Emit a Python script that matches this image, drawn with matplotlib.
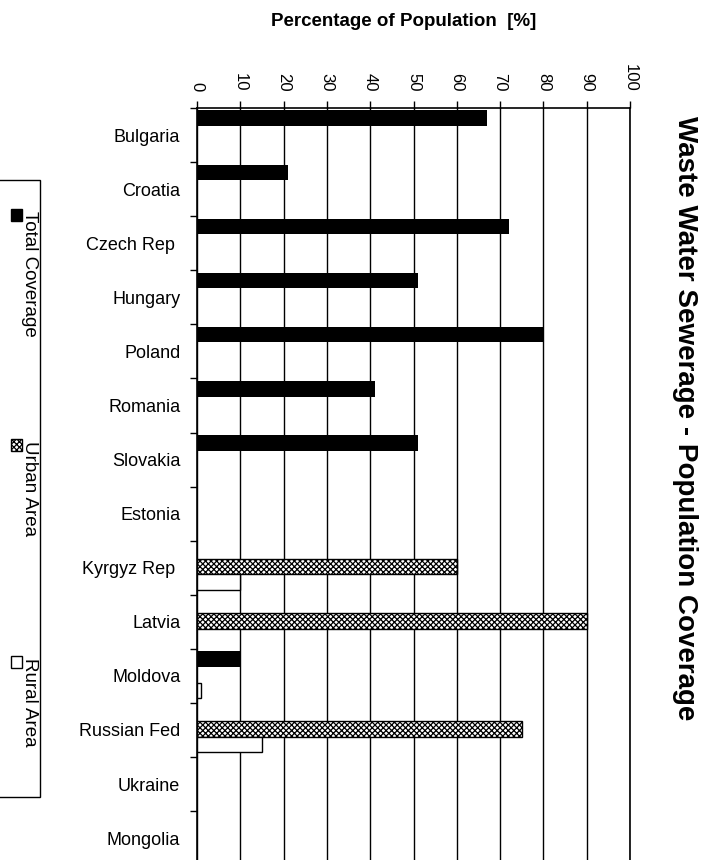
import matplotlib.pyplot as plt
import matplotlib.patches as mpatches
import numpy as np

plt.rcParams['font.family'] = ['Liberation Sans', 'DejaVu Sans']
plt.rcParams['hatch.linewidth'] = 0.9

# data
countries = ["Bulgaria", "Croatia", "Czech Rep ", "Hungary", "Poland", "Romania",
             "Slovakia", "Estonia", "Kyrgyz Rep ", "Latvia", "Moldova",
             "Russian Fed", "Ukraine", "Mongolia"]
total = [67, 21, 72, 51, 80, 41, 51, None, None, None, 10, None, None, None]
urban = [None, None, None, None, None, None, None, None, 60, 90, None, 75, None, None]
rural = [None, None, None, None, None, None, None, None, 10, None, 1, 15, None, None]
xticks = [0, 10, 20, 30, 40, 50, 60, 70, 80, 90, 100]

fig = plt.figure(figsize=(7.15, 8.6), dpi=100)
ax = fig.add_axes([197 / 715, -0.006, (630 - 197) / 715, 0.8804])

h = 0.29
offsets = [-0.31, -0.02, 0.27]
styles = [dict(color="black"),
          dict(facecolor="white", edgecolor="black", hatch="xxxxxx", linewidth=1),
          dict(facecolor="white", edgecolor="black", linewidth=1)]

for series, off, st in zip([total, urban, rural], offsets, styles):
    idx = [i for i, v in enumerate(series) if v is not None]
    vals = [series[i] for i in idx]
    ax.barh(np.array(idx) + off, vals, height=h, zorder=3, **st)

ax.set_xlim(0, 100)
ax.set_ylim(len(countries) - 0.5, -0.5)

ax.xaxis.tick_top()
ax.set_xticks(xticks)
ax.set_xticklabels([str(t) for t in xticks], rotation=-90, fontsize=12)
ax.tick_params(axis="x", direction="out", length=5, width=1, pad=7)
ax.grid(axis="x", color="black", linewidth=1, zorder=0)

ax.set_yticks(range(len(countries)))
ax.set_yticklabels(countries, fontsize=13)
ax.set_yticks(np.arange(-0.5, len(countries), 1), minor=True)
ax.tick_params(axis="y", which="major", length=0, pad=12)
ax.tick_params(axis="y", which="minor", direction="out", length=5, width=1)

ax.spines["bottom"].set_visible(False)
for s in ["top", "left", "right"]:
    ax.spines[s].set_linewidth(1.2)

fig.text(404 / 715, 1 - 22 / 860, "Percentage of Population  [%]",
         ha="center", va="center", fontsize=13.5, fontweight="bold")
fig.text(685 / 715, 1 - 418 / 860, "Waste Water Sewerage - Population Coverage",
         ha="center", va="center", rotation=-90, fontsize=20, fontweight="bold")

# legend drawn rotated on the left side
leg_box = mpatches.Rectangle((-2 / 715, 1 - 797 / 860), 42 / 715, (797 - 180) / 860,
                             transform=fig.transFigure, facecolor="white",
                             edgecolor="black", linewidth=1)
fig.patches.append(leg_box)
labels = ["Total Coverage", "Urban Area", "Rural Area"]
sq_y = [215, 445, 662]
for lab, y, st in zip(labels, sq_y, styles):
    sq = mpatches.Rectangle((11 / 715, 1 - (y + 6) / 860), 11 / 715, 12 / 860,
                            transform=fig.transFigure, **st)
    fig.patches.append(sq)
    fig.text(29 / 715, 1 - (y - 4) / 860, lab, rotation=-90, ha="center", va="top",
             fontsize=13.5)

fig.savefig("out.png", dpi=100)
